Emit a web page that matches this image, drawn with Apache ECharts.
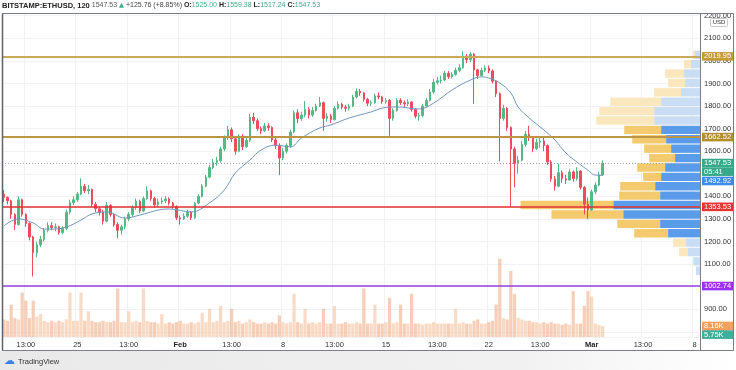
<!DOCTYPE html>
<html><head><meta charset="utf-8">
<script src="https://cdn.jsdelivr.net/npm/echarts@6/dist/echarts.min.js"></script>
<style>html,body{margin:0;padding:0;background:#fff}#c{width:736px;height:370px}</style>
</head><body><div id="c"></div>
<script>
// ---------- DATA ----------
const SYMBOL = 'BITSTAMP:ETHUSD, 120';
const LAST_BAR = { o: 1525.00, h: 1559.38, l: 1517.24, c: 1547.53 };
const CHANGE = [125.76, 8.85];
const COUNTDOWN = '05:41';

// time axis: 6h periods starting Jan 20 00:00
const N_SLOTS = 190;
const TICK_START = 6, TICK_STEP = 14;
const TICK_LABELS = ['13:00','25','13:00','Feb','13:00','8','13:00','15','13:00','22','13:00','Mar','13:00','8'];

// candles [open, close, low, high]
const CANDLES = [
[1410,1395,1375,1428],[1395,1380,1365,1400],[1380,1320,1300,1385],[1320,1275,1250,1325],[1275,1385,1270,1400],
[1385,1320,1310,1390],[1320,1280,1265,1325],[1280,1220,1205,1285],[1220,1150,1045,1225],[1150,1185,1130,1200],
[1185,1210,1175,1225],[1210,1250,1200,1260],[1250,1270,1240,1285],[1270,1262,1250,1285],[1262,1265,1245,1280],
[1265,1240,1230,1270],[1240,1258,1232,1268],[1258,1330,1250,1340],[1330,1372,1320,1385],[1372,1385,1360,1400],
[1385,1410,1375,1420],[1410,1445,1405,1480],[1445,1425,1415,1455],[1425,1430,1410,1450],[1430,1365,1355,1435],
[1365,1345,1330,1375],[1345,1330,1315,1355],[1330,1290,1275,1340],[1290,1360,1285,1375],[1360,1320,1310,1365],
[1320,1275,1265,1325],[1275,1250,1215,1285],[1250,1265,1230,1275],[1265,1300,1255,1310],[1300,1320,1290,1330],
[1320,1350,1310,1360],[1350,1378,1340,1390],[1378,1335,1325,1385],[1335,1390,1330,1400],[1390,1425,1385,1445],
[1425,1390,1380,1430],[1390,1362,1350,1398],[1362,1375,1350,1390],[1375,1380,1365,1395],[1380,1388,1370,1400],
[1388,1370,1360,1395],[1370,1355,1345,1375],[1355,1305,1295,1360],[1305,1300,1275,1315],[1300,1312,1295,1325],
[1312,1330,1305,1340],[1330,1305,1295,1335],[1305,1370,1300,1375],[1370,1400,1365,1410],[1400,1445,1395,1455],
[1445,1485,1440,1495],[1485,1528,1480,1540],[1528,1550,1520,1565],[1550,1558,1535,1575],[1558,1610,1550,1620],
[1610,1660,1600,1670],[1660,1695,1650,1712],[1695,1655,1640,1705],[1655,1600,1585,1665],[1600,1665,1595,1675],
[1665,1620,1605,1675],[1620,1648,1615,1660],[1648,1750,1640,1765],[1750,1735,1720,1770],[1735,1700,1690,1745],
[1700,1690,1675,1710],[1690,1712,1685,1725],[1712,1705,1690,1725],[1705,1650,1640,1710],[1650,1625,1610,1660],
[1625,1570,1495,1635],[1570,1600,1560,1615],[1600,1625,1590,1635],[1625,1685,1615,1695],[1685,1770,1680,1780],
[1770,1745,1725,1785],[1745,1760,1735,1775],[1760,1785,1750,1822],[1785,1760,1745,1795],[1760,1780,1752,1795],
[1780,1800,1775,1810],[1800,1815,1795,1840],[1815,1745,1690,1820],[1745,1755,1730,1770],[1755,1740,1725,1765],
[1740,1790,1735,1800],[1790,1808,1785,1820],[1808,1795,1785,1815],[1795,1790,1775,1805],[1790,1800,1780,1810],
[1800,1840,1795,1850],[1840,1865,1835,1878],[1865,1858,1845,1875],[1858,1830,1820,1862],[1830,1812,1800,1835],
[1812,1815,1800,1825],[1815,1845,1810,1855],[1845,1840,1830,1860],[1840,1820,1810,1845],[1820,1825,1810,1835],
[1825,1745,1668,1830],[1745,1780,1735,1790],[1780,1825,1775,1835],[1825,1815,1805,1835],[1815,1810,1795,1825],
[1810,1818,1800,1830],[1818,1785,1775,1822],[1785,1755,1745,1790],[1755,1758,1735,1770],[1758,1800,1750,1810],
[1800,1825,1795,1835],[1825,1862,1820,1875],[1862,1905,1855,1920],[1905,1912,1895,1930],[1912,1915,1900,1935],
[1915,1945,1910,1955],[1945,1930,1920,1955],[1930,1940,1922,1950],[1940,1958,1935,1970],[1958,1970,1950,1985],
[1970,2020,1965,2042],[2020,2005,1990,2030],[2005,2030,1995,2040],[2030,1960,1810,2035],[1960,1935,1920,1965],
[1935,1958,1930,1970],[1958,1968,1950,1980],[1968,1955,1945,1980],[1955,1910,1900,1962],[1910,1855,1840,1915],
[1855,1745,1555,1860],[1745,1790,1735,1805],[1790,1705,1690,1795],[1705,1610,1355,1710],[1610,1545,1440,1620],
[1545,1560,1500,1580],[1560,1630,1555,1645],[1630,1675,1620,1690],[1675,1660,1645,1712],[1660,1612,1595,1665],
[1612,1640,1605,1655],[1640,1645,1615,1660],[1645,1625,1600,1665],[1625,1552,1540,1630],[1552,1478,1465,1560],
[1478,1445,1425,1490],[1445,1505,1440,1545],[1505,1478,1460,1515],[1478,1472,1455,1495],[1472,1508,1470,1520],
[1508,1478,1465,1515],[1478,1512,1470,1529],[1512,1440,1430,1515],[1440,1365,1320,1445],[1365,1340,1300,1395],
[1340,1420,1335,1430],[1420,1450,1410,1462],[1450,1495,1445,1510],[1495,1547.53,1490,1559.38]
];

// volume in K per candle
const VOLUME = [
13,12,24,14,13,33,27,14,27,15,
17,12,11,12,11,12,11,13,33,12,
12,33,12,19,12,11,11,12,11,11,
12,36,11,11,19,11,12,11,36,12,
11,11,10,17,10,11,10,11,12,10,
10,11,10,11,18,11,21,11,12,23,
11,12,21,11,12,10,11,13,11,10,
10,11,10,11,10,16,11,10,11,32,
11,10,21,10,11,10,11,21,10,10,
23,10,10,11,10,10,11,10,36,10,
10,24,10,10,11,29,10,11,24,10,
10,32,10,10,9,10,10,11,10,10,
10,10,10,21,10,11,10,10,12,13,
10,10,11,12,24,58,14,13,49,32,
14,13,12,12,11,11,10,11,10,11,
10,10,9,10,9,34,10,10,23,34,
30,10,9,8.16
];
const VOLUME_MA_LAST = 5.75;

// moving average [candle index, value]
const MA = [[0,1269],[4,1300],[8,1282],[11,1255],[13,1255],[17,1264],[21,1295],[24,1322],[28,1331],[33,1304],
[37,1317],[42,1339],[45,1344],[51,1331],[56,1371],[60,1428],[63,1503],[67,1561],[70,1605],[74,1627],[78,1619],
[81,1658],[86,1703],[89,1716],[94,1747],[100,1774],[103,1791],[107,1796],[113,1787],[117,1813],[122,1871],
[127,1915],[130,1929],[132,1924],[135,1902],[138,1858],[140,1796],[143,1747],[147,1694],[150,1650],[153,1592],
[156,1552],[159,1516],[161,1494],[163,1492.92]];

// visible range volume profile (bottom row first)
const PROFILE_BASE = 1049.5, PROFILE_STEP = 41.6;
const PROFILE_UP   = [4,6,12,14,32,40,77,87,40,45,39,35,25,29,34,39,46,46,39,19,15,16,9,5];
const PROFILE_DOWN = [0,1,9,13,34,43,72,93,41,35,18,28,26,27,34,37,58,55,51,27,17,19,7,2];
const VALUE_AREA = [1215, 1716];

// horizontal levels
const LEVELS = [2019.95, 1662.52, 1353.53, 1002.74];

// ---------- CHART ----------
const FONT = 'Liberation Sans, Arial, sans-serif';
const chart = echarts.init(document.getElementById('c'));
const isTick = i => i >= TICK_START && (i - TICK_START) % TICK_STEP === 0;
const cats = Array.from({length: N_SLOTS}, (_, i) => String(i));
const HIDDEN = { color: 'rgba(0,0,0,0)', width: 0.01 };

const profileData = PROFILE_UP.map((u, j) => [PROFILE_BASE + j*PROFILE_STEP, PROFILE_BASE + (j+1)*PROFILE_STEP, u, PROFILE_DOWN[j]]);

function tag(val, color, lineStyle, lines, shift) {
  let f = lines.map(t => '{t|' + t + '}').join('\n');
  if (shift) f = '{s| }\n' + f;
  return {
    yAxis: val, lineStyle: lineStyle,
    label: { show: true, position: 'end', distance: 2, formatter: f,
      rich: {
        t: { color: '#fff', backgroundColor: color, fontSize: 7.5, fontFamily: FONT, width: 27, height: 8.6, lineHeight: 8.6, padding: [0, 2], align: 'left' },
        s: { height: shift || 0, lineHeight: shift || 0, fontSize: 1 }
      } }
  };
}
const LAST = CANDLES[CANDLES.length - 1][1];

const option = {
  animation: false,
  textStyle: { fontFamily: FONT },
  grid: { left: 2, right: 36, top: 13, bottom: 33 },
  xAxis: [{
    type: 'category', data: cats, boundaryGap: true,
    axisLine: { show: false }, axisTick: { show: false },
    axisLabel: { interval: isTick, fontSize: 7.5, color: '#333', margin: 4,
      formatter: (v, i) => { const t = TICK_LABELS[(i - TICK_START) / TICK_STEP]; return (t === 'Feb' || t === 'Mar') ? '{b|' + t + '}' : t; },
      rich: { b: { fontWeight: 'bold', fontSize: 7.5, color: '#222' } } },
    splitLine: { show: true, interval: isTick, lineStyle: { color: '#f0f2f5', width: 1 } }
  }, {
    type: 'value', min: 0, max: 700, inverse: true, show: false
  }],
  yAxis: [{
    type: 'value', position: 'right', min: 777.1, max: 2212, splitNumber: 14, scale: true,
    axisLine: { show: false }, axisTick: { show: false },
    axisLabel: { fontSize: 7.5, color: '#333', margin: 4, formatter: v => (Math.abs(v % 100) < 0.01 ? v.toFixed(2) : '') },
    splitLine: { show: true, lineStyle: { color: '#f0f2f5', width: 1 } }
  }, {
    type: 'value', min: 0, max: 240, show: false
  }],
  series: [{
    type: 'bar', xAxisIndex: 0, yAxisIndex: 1, z: 1, barCategoryGap: '12%',
    data: VOLUME.map((v, i) => ({ value: v, itemStyle: { color: CANDLES[i][1] >= CANDLES[i][0] ? 'rgba(244,190,150,0.55)' : 'rgba(240,168,128,0.55)' } })),
    markLine: { symbol: ['none', 'none'], silent: true,
      data: [
        tag(VOLUME[VOLUME.length - 1], '#f0a15e', HIDDEN, [VOLUME[VOLUME.length - 1].toFixed(2) + 'K']),
        tag(VOLUME_MA_LAST, '#3fae9a', HIDDEN, [VOLUME_MA_LAST.toFixed(2) + 'K'], 10.8)
      ] }
  }, {
    type: 'custom', xAxisIndex: 1, yAxisIndex: 0, z: 2, silent: true,
    encode: { x: [2, 3], y: [0, 1] },
    data: profileData,
    renderItem: (params, api) => {
      const lo = api.value(0), hi = api.value(1), up = api.value(2), dn = api.value(3);
      const pTop = api.coord([0, hi]), pBot = api.coord([0, lo]);
      const xUp = api.coord([up, lo])[0], xDn = api.coord([up + dn, lo])[0];
      const strong = lo >= VALUE_AREA[0] - 1 && hi <= VALUE_AREA[1] + 1;
      const y = pTop[1] + 0.5, h = pBot[1] - pTop[1] - 1;
      return { type: 'group', children: [
        { type: 'rect', shape: { x: xUp, y: y, width: pTop[0] - xUp, height: h }, style: { fill: strong ? '#5b9cea' : '#c9ddf5' } },
        { type: 'rect', shape: { x: xDn, y: y, width: xUp - xDn, height: h }, style: { fill: strong ? '#f4ca6f' : '#fbe7bd' } }
      ] };
    }
  }, {
    type: 'candlestick', xAxisIndex: 0, yAxisIndex: 0, z: 3, barWidth: 2,
    data: CANDLES,
    itemStyle: { color: '#53b987', color0: '#eb4d5c', borderColor: '#53b987', borderColor0: '#eb4d5c', borderWidth: 1 },
    markLine: { symbol: ['none', 'none'], silent: true, animation: false,
      data: [
        tag(LEVELS[0], '#c49b35', { color: '#c9aa58', width: 2, type: 'solid' }, [LEVELS[0].toFixed(2)]),
        tag(LEVELS[1], '#b48d30', { color: '#b99544', width: 2, type: 'solid' }, [LEVELS[1].toFixed(2)]),
        tag(LEVELS[2], '#e3342f', { color: '#e0302f', width: 1.5, type: 'solid' }, [LEVELS[2].toFixed(2)]),
        tag(LEVELS[3], '#9b30f0', { color: '#9540e0', width: 1.5, type: 'solid' }, [LEVELS[3].toFixed(2)]),
        tag(LAST, '#38a88a', { color: '#9aa3ad', width: 1, type: [1, 2] }, [LAST.toFixed(2), COUNTDOWN], 8.6)
      ] }
  }, {
    type: 'line', xAxisIndex: 0, yAxisIndex: 0, z: 4, data: MA, showSymbol: false, smooth: 0.4,
    lineStyle: { color: '#6f96bd', width: 1 },
    markLine: { symbol: ['none', 'none'], silent: true,
      data: [ tag(MA[MA.length - 1][1], '#3d8be8', HIDDEN, [MA[MA.length - 1][1].toFixed(2)], 11.2) ] }
  }],
  graphic: [
    { type: 'rect', silent: true, shape: { x: 0, y: 351, width: 736, height: 19 }, z: -1,
      style: { fill: new echarts.graphic.LinearGradient(0, 0, 1, 0, [{ offset: 0, color: '#e9e9e9' }, { offset: 0.7, color: '#f1f1f1' }, { offset: 1, color: '#ffffff' }]) } },
    { type: 'rect', silent: true, z: 100, shape: { x: 2.5, y: 13.5, width: 731, height: 337 }, style: { fill: null, stroke: '#7b7e86', lineWidth: 1 } },
    { type: 'line', silent: true, z: 100, shape: { x1: 2.5, y1: 13.5, x2: 2.5, y2: 350.5 }, style: { stroke: '#5f626a', lineWidth: 1.5 } },
    { type: 'line', silent: true, z: 100, shape: { x1: 700.5, y1: 13.5, x2: 700.5, y2: 350.5 }, style: { stroke: '#7b7e86', lineWidth: 1 } },
    { type: 'group', z: 100, children: [
      { type: 'rect', shape: { x: 710.5, y: 18.5, width: 17, height: 8, r: 1 }, style: { fill: '#fff', stroke: '#c6c8cc', lineWidth: 1 } },
      { type: 'text', style: { x: 719, y: 22.8, text: 'USD', fontSize: 6, fill: '#333', align: 'center', verticalAlign: 'middle', fontFamily: FONT } }
    ] },
    { type: 'text', z: 100, style: { x: 2, y: 5.5, verticalAlign: 'middle', fontFamily: FONT, fontSize: 7,
      text: '{s|' + SYMBOL + '} {g|' + LAST_BAR.c.toFixed(2) + '} {u|▲} {d|+' + CHANGE[0].toFixed(2) + ' (+' + CHANGE[1].toFixed(2) + '%)} {k|O:}{v|' + LAST_BAR.o.toFixed(2) + '} {k|H:}{v|' + LAST_BAR.h.toFixed(2) + '} {k|L:}{v|' + LAST_BAR.l.toFixed(2) + '} {k|C:}{v|' + LAST_BAR.c.toFixed(2) + '}',
      rich: {
        s: { fontWeight: 'bold', fontSize: 7.5, fill: '#222', fontFamily: FONT },
        g: { fontSize: 7, fill: '#555', fontFamily: FONT },
        u: { fontSize: 6.5, fill: '#3fae8a', fontFamily: 'DejaVu Sans' },
        d: { fontSize: 7, fill: '#444', fontFamily: FONT },
        k: { fontSize: 7, fill: '#222', fontWeight: 'bold', fontFamily: FONT },
        v: { fontSize: 7, fill: '#3fae8a', fontFamily: FONT }
      } } },
    { type: 'text', z: 100, style: { x: 4, y: 361, text: '☁', fontSize: 11, fill: '#3b82e0', verticalAlign: 'middle', fontFamily: 'DejaVu Sans' } },
    { type: 'text', z: 100, style: { x: 18, y: 361.5, text: 'TradingView', fontSize: 7.5, fill: '#333', verticalAlign: 'middle', fontFamily: FONT } }
  ]
};
chart.setOption(option);
</script></body></html>
